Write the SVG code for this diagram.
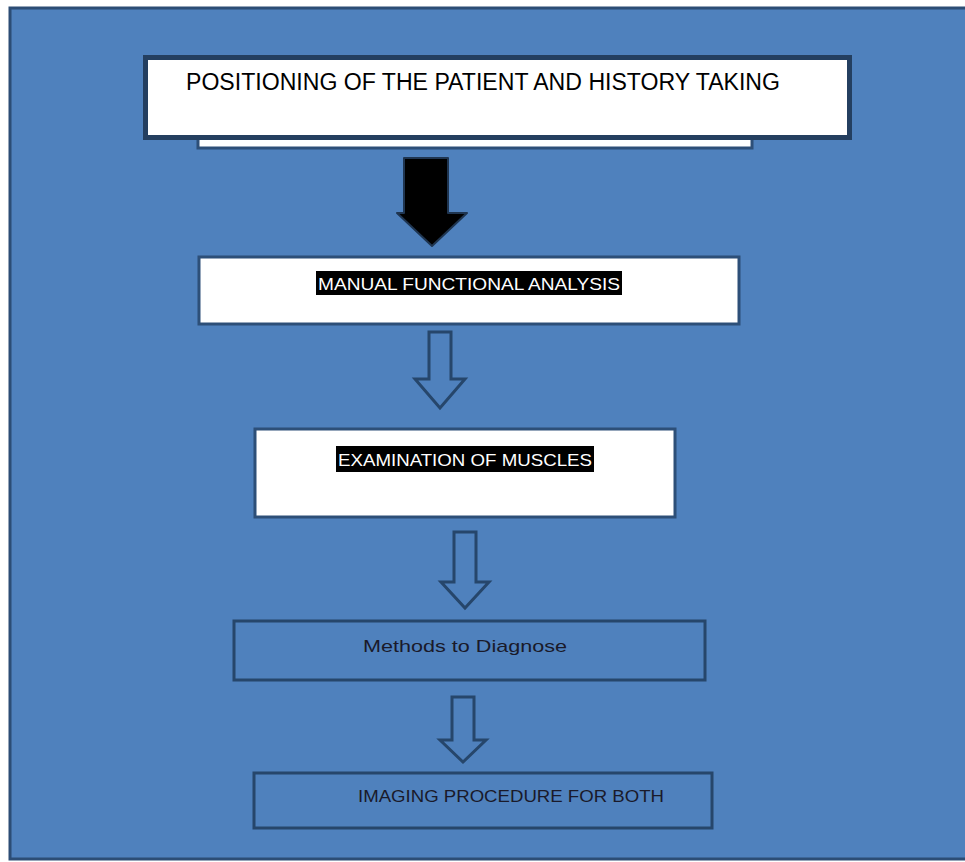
<svg xmlns="http://www.w3.org/2000/svg" width="965" height="862" viewBox="0 0 965 862">
<style>
.box{fill:#ffffff;stroke:#2d4f78;stroke-width:3}
.obox{fill:none;stroke:#26466b;stroke-width:3}
.harrow{fill:none;stroke:#26466b;stroke-width:3;stroke-linejoin:miter}
.t{font-family:"Liberation Sans","Open Sans",sans-serif;}
.hl{fill:#000000}
.hlt{fill:#ffffff;font-size:17px}
.dt{fill:#1a1a2a;font-size:17px}
</style>
<rect x="0" y="0" width="965" height="862" fill="#ffffff"/>
<rect id="background" x="10" y="8" width="958" height="851" fill="#4f81bd" stroke="#2c4d75" stroke-width="3"/>
<g id="node-positioning">
  <rect x="198" y="138" width="554" height="10" class="box"/>
  <rect x="145.5" y="57.5" width="704" height="80" fill="#ffffff" stroke="#243f60" stroke-width="5"/>
  <text class="t" x="483" y="90" text-anchor="middle" font-size="23" fill="#000" textLength="594" lengthAdjust="spacingAndGlyphs">POSITIONING OF THE PATIENT AND HISTORY TAKING</text>
</g>
<g id="node-manual">
  <rect x="199" y="257" width="540" height="67" class="box"/>
  <rect x="316" y="271" width="306" height="24" class="hl"/>
  <text class="t hlt" x="318" y="290" textLength="302" lengthAdjust="spacingAndGlyphs">MANUAL FUNCTIONAL ANALYSIS</text>
</g>
<g id="node-examination">
  <rect x="255" y="429" width="420" height="88" class="box"/>
  <rect x="336" y="446" width="258" height="26" class="hl"/>
  <text class="t hlt" x="338" y="466" textLength="254" lengthAdjust="spacingAndGlyphs">EXAMINATION OF MUSCLES</text>
</g>
<g id="node-methods">
  <rect x="234" y="621" width="471" height="59" class="obox"/>
  <text class="t dt" x="363" y="652" textLength="204" lengthAdjust="spacingAndGlyphs">Methods to Diagnose</text>
</g>
<g id="node-imaging">
  <rect x="254" y="773" width="458" height="55" class="obox"/>
  <text class="t dt" x="358" y="802" textLength="306" lengthAdjust="spacingAndGlyphs">IMAGING PROCEDURE FOR BOTH</text>
</g>
<g id="connectors">
  <path d="M404,158 H448 V213 H467 L432,246 L397,213 H404 Z" fill="#000000" stroke="#1f3550" stroke-width="2" stroke-linejoin="round"/>
  <path d="M429,332 H451 V379 H465 L440,408 L415,379 H429 Z" class="harrow"/>
  <path d="M454,532 H476 V582 H489 L465,608 L441,582 H454 Z" class="harrow"/>
  <path d="M452,697 H474 V740 H486 L463,762 L440,740 H452 Z" class="harrow"/>
</g>
</svg>
